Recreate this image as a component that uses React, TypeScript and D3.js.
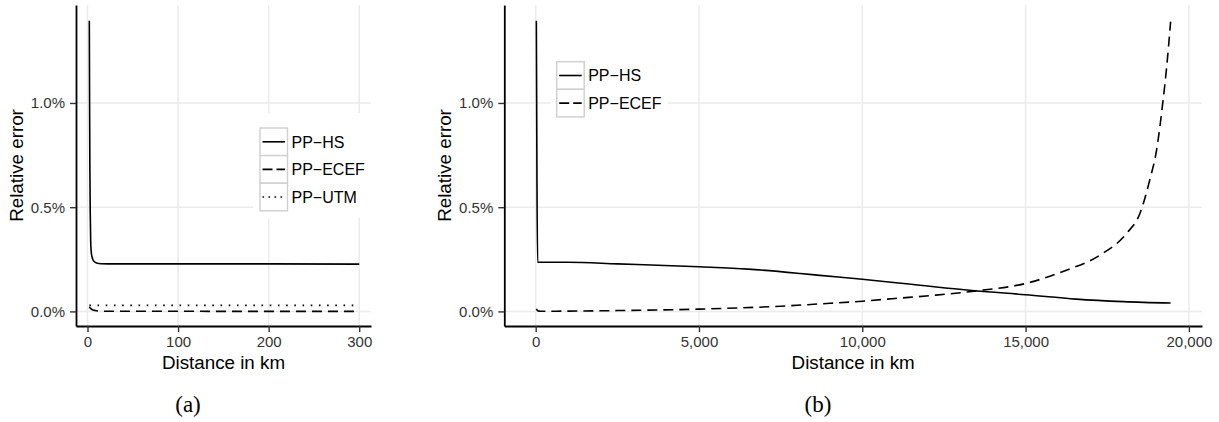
import React, { useEffect, useRef } from 'react';
import * as d3 from 'd3';

// ---- data (relative error in %) ----
// panel (a): 0 .. 300 km
const shortHsKm = [2, 2.3, 2.6, 3, 3.5, 4, 5, 6, 8, 10, 15, 30, 100, 200, 300];
const shortHsErr = [1.395, 1.0, 0.7, 0.48, 0.34, 0.29, 0.262, 0.248, 0.237, 0.232, 0.229, 0.228, 0.228, 0.228, 0.227];
const shortEcefKm = [2, 3, 4, 6, 8, 10, 15, 20, 50, 300];
const shortEcefErr = [0.022, 0.016, 0.012, 0.007, 0.005, 0.003, 0.0015, 0.001, 0.0005, 0.0003];
const shortUtmKm = [2, 300];
const shortUtmErr = [0.029, 0.029];

// panel (b): 0 .. 20,000 km
const longHsKm = [20, 40, 60, 1000, 2500, 5000, 6500, 8100, 8700, 10000, 11500, 13450, 15000, 16550, 18000, 19440];
const longHsErr = [1.395, 0.6, 0.236, 0.236, 0.228, 0.214, 0.203, 0.182, 0.173, 0.154, 0.13, 0.099, 0.08, 0.059, 0.047, 0.04];
const longEcefKm = [20, 60, 150, 1000, 2500, 5000, 7500, 8700, 10000, 11000, 12250, 13520, 15000, 16250, 17280, 18090, 18500, 18800, 19010, 19210, 19320, 19440];
const longEcefErr = [0.012, 0.003, 0.0005, 0.0015, 0.004, 0.011, 0.025, 0.036, 0.049, 0.062, 0.078, 0.099, 0.134, 0.198, 0.27, 0.374, 0.47, 0.63, 0.774, 1.014, 1.174, 1.39];

const yTicks = [0, 0.5, 1.0];
const shortXTicks = [0, 100, 200, 300];
const longXTicks = [0, 5000, 10000, 15000, 20000];

const SANS = '"Liberation Sans", Arial, Helvetica, sans-serif';
const DASH = '10,6';
const DOT = '1.6,6.6';

type Series = { name: string; km: number[]; err: number[]; dash: string | null };

const shortSeries: Series[] = [
  { name: 'PP\u2212HS', km: shortHsKm, err: shortHsErr, dash: null },
  { name: 'PP\u2212ECEF', km: shortEcefKm, err: shortEcefErr, dash: DASH },
  { name: 'PP\u2212UTM', km: shortUtmKm, err: shortUtmErr, dash: DOT },
];
const longSeries: Series[] = [
  { name: 'PP\u2212HS', km: longHsKm, err: longHsErr, dash: null },
  { name: 'PP\u2212ECEF', km: longEcefKm, err: longEcefErr, dash: DASH },
];

const App = () => {
  const svgRef = useRef<SVGSVGElement>(null);

  useEffect(() => {
    const root = d3.select(svgRef.current);
    root.selectAll('*').remove();

    const y = d3.scaleLinear().domain([-0.07, 1.47]).range([326, 5]);

    const renderPanel = (
      series: Series[],
      xDomain: [number, number],
      xRange: [number, number],
      xTicks: number[],
      xFormat: (d: number) => string,
      yTitleX: number,
      legend: { x: number; y: number; bgX: number; bgY: number; bgW: number; bgH: number },
      caption: string,
      captionX: number
    ) => {
      const x = d3.scaleLinear().domain(xDomain).range(xRange);
      const [left, right] = xRange;
      const [bottom, top] = y.range();
      const g = root.append('g');

      // grid
      g.append('g').selectAll('line').data(yTicks).enter().append('line')
        .attr('x1', left).attr('x2', right)
        .attr('y1', d => y(d)).attr('y2', d => y(d))
        .attr('stroke', '#ebebeb').attr('stroke-width', 1.5);
      g.append('g').selectAll('line').data(xTicks).enter().append('line')
        .attr('x1', d => x(d)).attr('x2', d => x(d))
        .attr('y1', top).attr('y2', bottom)
        .attr('stroke', '#ebebeb').attr('stroke-width', 1.5);

      // legend background (covers grid)
      g.append('rect')
        .attr('x', legend.bgX).attr('y', legend.bgY)
        .attr('width', legend.bgW).attr('height', legend.bgH)
        .attr('fill', 'white');

      // lines
      const line = d3.line<[number, number]>()
        .x(d => x(d[0]))
        .y(d => y(d[1]))
        .curve(d3.curveMonotoneX);
      series.forEach(s => {
        const pts = s.km.map((k, i) => [k, s.err[i]] as [number, number]);
        g.append('path')
          .attr('d', line(pts))
          .attr('fill', 'none')
          .attr('stroke', 'black')
          .attr('stroke-width', 1.6)
          .attr('stroke-dasharray', s.dash ? s.dash : null);
      });

      // axes
      const yAxis = g.append('g')
        .attr('transform', `translate(${left},0)`)
        .call(d3.axisLeft(y).tickValues(yTicks).tickSize(6).tickSizeOuter(0).tickPadding(5)
          .tickFormat(d => d3.format('.1f')(d as number) + '%'));
      const xAxis = g.append('g')
        .attr('transform', `translate(0,${bottom})`)
        .call(d3.axisBottom(x).tickValues(xTicks).tickSize(6).tickSizeOuter(0).tickPadding(4)
          .tickFormat(d => xFormat(d as number)));
      [yAxis, xAxis].forEach(a => {
        a.select('.domain').attr('stroke', 'black').attr('stroke-width', 1.8);
        a.selectAll('.tick line').attr('stroke', '#333').attr('stroke-width', 1.4);
        a.selectAll('.tick text')
          .style('font-family', SANS).style('font-size', '15px').attr('fill', '#333');
      });

      // titles
      g.append('text')
        .attr('x', (left + right) / 2).attr('y', 369)
        .attr('text-anchor', 'middle')
        .style('font-family', SANS).style('font-size', '18.8px')
        .text('Distance in km');
      g.append('text')
        .attr('transform', `translate(${yTitleX},${(top + bottom) / 2}) rotate(-90)`)
        .attr('text-anchor', 'middle')
        .attr('dy', '0.35em')
        .style('font-family', SANS).style('font-size', '18.8px')
        .text('Relative error');

      // legend keys
      const keyW = 27.5;
      const keyH = 27.6;
      series.forEach((s, i) => {
        const ky = legend.y + i * keyH;
        g.append('rect')
          .attr('x', legend.x).attr('y', ky)
          .attr('width', keyW).attr('height', keyH)
          .attr('fill', 'white').attr('stroke', '#cfcfcf').attr('stroke-width', 1.4);
        g.append('line')
          .attr('x1', legend.x + 2.5).attr('x2', legend.x + keyW - 2.5)
          .attr('y1', ky + keyH / 2).attr('y2', ky + keyH / 2)
          .attr('stroke', 'black').attr('stroke-width', 1.6)
          .attr('stroke-dasharray', s.dash === DASH ? '10,4' : s.dash === DOT ? '1.6,4.4' : null);
        g.append('text')
          .attr('x', legend.x + keyW + 4).attr('y', ky + keyH / 2)
          .attr('dy', '0.36em')
          .style('font-family', SANS).style('font-size', '16px')
          .text(s.name);
      });

      // sub caption
      g.append('text')
        .attr('x', captionX).attr('y', 412)
        .attr('text-anchor', 'middle')
        .style('font-family', '"Liberation Serif", "DejaVu Serif", serif').style('font-size', '23px')
        .text(caption);
    };

    renderPanel(shortSeries, [-12.7, 313], [76, 371], shortXTicks, d => d3.format('d')(d), 16,
      { x: 260, y: 128, bgX: 253, bgY: 113, bgW: 118, bgH: 105 }, '(a)', 188);
    renderPanel(longSeries, [-961, 20401], [504.3, 1202], longXTicks, d => d3.format(',')(d), 444,
      { x: 556.7, y: 61.7, bgX: 550, bgY: 47, bgW: 118, bgH: 77 }, '(b)', 818);
  }, []);

  return (
    <svg ref={svgRef} width={1219} height={422}
      style={{ position: 'absolute', left: 0, top: 0, background: 'white' }} />
  );
};

export default App;
